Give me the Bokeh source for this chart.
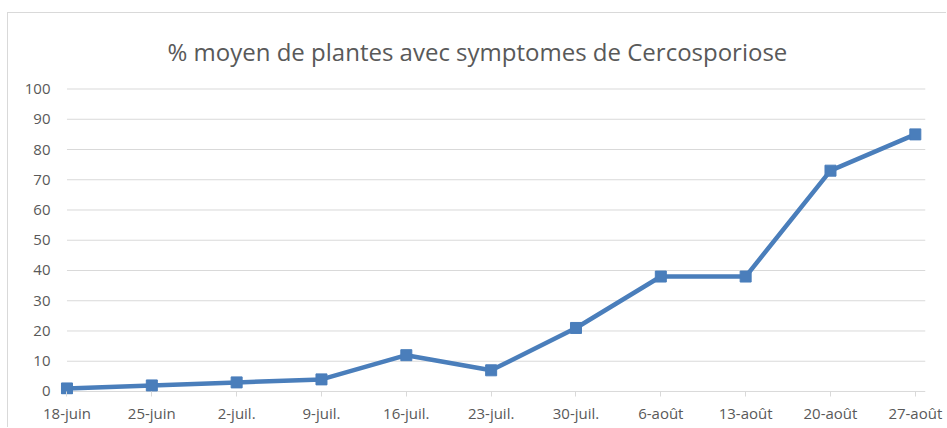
from bokeh.plotting import figure
from bokeh.models import Range1d, FixedTicker, ColumnDataSource
from bokeh.embed import file_html
from bokeh.resources import INLINE

# ---- data ----
dates = ["18-juin", "25-juin", "2-juil.", "9-juil.", "16-juil.", "23-juil.",
         "30-juil.", "6-août", "13-août", "20-août", "27-août"]
pct = [1, 2, 3, 4, 12, 7, 21, 38, 38, 73, 85]
y_ticks = [0, 10, 20, 30, 40, 50, 60, 70, 80, 90, 100]
title_text = "% moyen de plantes avec symptomes de Cercosporiose"

idx = list(range(len(dates)))
src = ColumnDataSource(dict(x=idx, y=pct))

FONT = "Open Sans"
TXT = "#595959"
GRID = "#d9d9d9"
BLUE = "#4a7ebb"

x_end = len(dates) - 1 + 0.12

p = figure(width=939, height=415, output_backend="svg", toolbar_location=None,
           x_range=Range1d(-0.1, x_end),
           y_range=Range1d(-1, 100.5),
           min_border_left=50, min_border_right=22,
           min_border_top=73, min_border_bottom=34)
p.styles = {"margin-left": "7px", "margin-top": "12px",
            "border-left": "1px solid #d9d9d9", "border-top": "1px solid #d9d9d9"}

p.title.text = title_text
p.title.text_font = FONT
p.title.text_font_size = "24px"
p.title.text_font_style = "normal"
p.title.text_color = TXT
p.title.align = "left"
p.title.standoff = 39
p.title.offset = 109

p.outline_line_color = None
p.background_fill_color = "white"
p.border_fill_color = "white"

# grid lines (horizontal), starting at first category
p.xgrid.visible = False
p.ygrid.visible = False
p.segment(x0=[0] * len(y_ticks), x1=[x_end] * len(y_ticks), y0=y_ticks, y1=y_ticks,
          line_color=GRID, line_width=1, level="underlay")

# y axis
ya = p.yaxis[0]
ya.ticker = FixedTicker(ticks=y_ticks)
ya.axis_line_color = None
ya.major_tick_line_color = None
ya.minor_tick_line_color = None
ya.major_tick_out = 0
ya.major_tick_in = 0
ya.major_label_standoff = 8
ya.major_label_text_font = FONT
ya.major_label_text_font_size = "15px"
ya.major_label_text_color = TXT

# x axis
xa = p.xaxis[0]
xa.ticker = FixedTicker(ticks=idx)
xa.major_label_overrides = {i: d for i, d in zip(idx, dates)}
xa.axis_line_color = None
xa.major_tick_line_color = GRID
xa.major_tick_out = 2
xa.major_tick_in = 3
xa.minor_tick_line_color = None
xa.major_label_standoff = 6
xa.major_label_text_font = FONT
xa.major_label_text_font_size = "15px"
xa.major_label_text_color = TXT

p.line("x", "y", source=src, line_color=BLUE, line_width=4.5)
p.scatter("x", "y", source=src, marker="square", size=11,
          fill_color=BLUE, line_color=BLUE)

open("out.html", "w").write(file_html(p, INLINE))
